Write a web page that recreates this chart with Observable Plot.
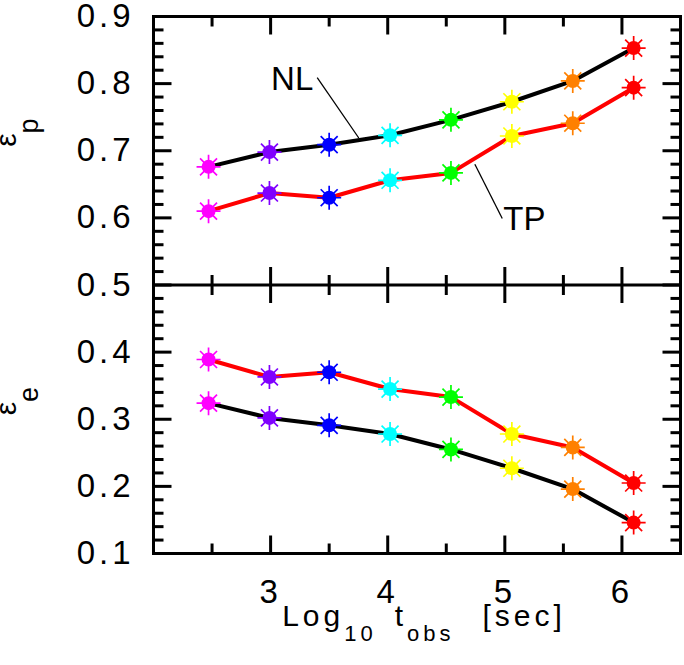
<!DOCTYPE html>
<html>
<head>
<meta charset="utf-8">
<script src="https://cdn.jsdelivr.net/npm/d3@7"></script>
<script src="https://cdn.jsdelivr.net/npm/@observablehq/plot@0.6"></script>
<style>
  body { margin: 0; background: #fff; }
  #chart svg { display: block; }
</style>
</head>
<body>
<div id="chart"></div>
<script>
// Observation epochs (log10 of time in seconds) and the colour of each epoch's marker
const logT = [2.47, 2.99, 3.50, 4.02, 4.54, 5.06, 5.58, 6.10];
const epochColors = ["#ff00ff", "#7f00ff", "#0000ff", "#00ffff", "#00ff00", "#ffff00", "#ff8000", "#ff0000"];

// Proton fraction (upper panel) and electron fraction (lower panel) for the two models
const epsP_NL = [0.676, 0.698, 0.709, 0.723, 0.746, 0.773, 0.804, 0.853];
const epsP_TP = [0.610, 0.637, 0.630, 0.656, 0.667, 0.722, 0.741, 0.794];
const epsE_NL = [0.324, 0.302, 0.291, 0.278, 0.255, 0.227, 0.196, 0.146];
const epsE_TP = [0.389, 0.363, 0.370, 0.345, 0.333, 0.278, 0.258, 0.205];

const modelNames = ["NL", "TP"];
const modelLineColors = ["black", "#ff0000"];

// Axis ticks
const xTickLabels = [3, 4, 5, 6];
const xMinorTicks = [2.5, 3.5, 4.5, 5.5];
const yTickLabels = [0.1, 0.2, 0.3, 0.4, 0.5, 0.6, 0.7, 0.8, 0.9];
const panelDivider = 0.5;
const xDomain = [2, 6.5];
const yDomain = [0.1, 0.9];

// Model labels with their leader lines
const labelX = [3.184, 5.167];
const labelY = [0.806, 0.597];
const leaderX1 = [3.398, 4.744];
const leaderY1 = [0.809, 0.680];
const leaderX2 = [3.753, 4.978];
const leaderY2 = [0.719, 0.599];

// Panel axis titles
const panelTitles = [
  {base: "\u03b5", sub: "p", domain: [0.5, 0.9]},
  {base: "\u03b5", sub: "e", domain: [0.1, 0.5]}
];

// Long-form table: one row per point
const seriesList = [
  {qty: "p", model: 0, values: epsP_NL},
  {qty: "p", model: 1, values: epsP_TP},
  {qty: "e", model: 0, values: epsE_NL},
  {qty: "e", model: 1, values: epsE_TP}
];
const table = seriesList.flatMap(s => s.values.map((v, i) => ({
  t: logT[i],
  v,
  key: s.qty + modelNames[s.model],
  line: modelLineColors[s.model],
  color: epochColors[i]
})));

const annotations = modelNames.map((name, i) => ({
  name, x: labelX[i], y: labelY[i],
  x1: leaderX1[i], y1: leaderY1[i], x2: leaderX2[i], y2: leaderY2[i]
}));

const yMinorTicks = d3.range(0.12, 0.9, 0.02)
  .map(v => Math.round(v * 100) / 100)
  .filter(v => Math.round(v * 100) % 10 !== 0);

// Figure geometry
const W = 684, H = 665;
const M = {left: 153, right: 4, top: 16, bottom: 112};
const xPerPx = (xDomain[1] - xDomain[0]) / (W - M.left - M.right);
const yPerPx = (yDomain[1] - yDomain[0]) / (H - M.top - M.bottom);
const majorPx = 18, minorPx = 10;

// Inward tick segments along the frame edges and on both sides of the divider
const tickSegments = [];
for (const [values, px] of [[yTickLabels, majorPx], [yMinorTicks, minorPx]]) {
  const w = px * xPerPx;
  for (const v of values) {
    tickSegments.push({x1: xDomain[0], x2: xDomain[0] + w, y1: v, y2: v});
    tickSegments.push({x1: xDomain[1] - w, x2: xDomain[1], y1: v, y2: v});
  }
}
for (const [values, px] of [[xTickLabels, majorPx], [xMinorTicks, minorPx]]) {
  const h = px * yPerPx;
  for (const v of values) {
    tickSegments.push({x1: v, x2: v, y1: yDomain[0], y2: yDomain[0] + h});
    tickSegments.push({x1: v, x2: v, y1: yDomain[1] - h, y2: yDomain[1]});
    tickSegments.push({x1: v, x2: v, y1: panelDivider - h, y2: panelDivider + h});
  }
}

// Eight-spoked star drawn around each marker
const spokes = {
  draw(context, size) {
    const R = Math.sqrt(size / Math.PI);
    for (let k = 0; k < 8; k++) {
      const a = k * Math.PI / 4;
      context.moveTo(0, 0);
      context.lineTo(R * Math.cos(a), R * Math.sin(a));
    }
  }
};

const font = "Liberation Sans, Arial, Helvetica, sans-serif";
const tickFont = {fontSize: 33, fontFamily: font};

const chart = Plot.plot({
  width: W,
  height: H,
  marginLeft: M.left,
  marginRight: M.right,
  marginTop: M.top,
  marginBottom: M.bottom,
  x: {domain: xDomain},
  y: {domain: yDomain},
  color: {type: "identity"},
  style: {fontFamily: font, background: "white", color: "black"},
  marks: [
    Plot.frame({stroke: "black", strokeWidth: 3}),
    // tick labels
    Plot.axisY(yTickLabels, {anchor: "left", tickSize: 0, tickPadding: 19, tickFormat: d => d.toFixed(1), label: null, ...tickFont}),
    Plot.axisX(xTickLabels, {anchor: "bottom", tickSize: 0, tickPadding: 26, tickFormat: d => String(d), label: null, ...tickFont}),
    // divider between the two panels
    Plot.ruleY([panelDivider], {stroke: "black", strokeWidth: 3}),
    // model curves
    Plot.line(table, {x: "t", y: "v", z: "key", stroke: "line", strokeWidth: 4}),
    // epoch markers
    Plot.dot(table, {x: "t", y: "v", r: 12, symbol: spokes, stroke: "color", strokeWidth: 1.7, fill: "none"}),
    Plot.dot(table, {x: "t", y: "v", r: 7, fill: "color", stroke: "none"}),
    // model labels
    Plot.link(annotations, {x1: "x1", y1: "y1", x2: "x2", y2: "y2", stroke: "black", strokeWidth: 1.3}),
    Plot.text(annotations, {x: "x", y: "y", text: "name", fontSize: 33, fontFamily: font, fill: "black"}),
    // panel titles
    Plot.text(panelTitles, {
      frameAnchor: "left", y: d => (d.domain[0] + d.domain[1]) / 2, text: d => d.base,
      rotate: -90, dx: -147, dy: -4, fontSize: 30, fontFamily: font, fill: "black"
    }),
    // x-axis title
    Plot.text(["Log"], {
      frameAnchor: "bottom", text: d => d, dx: 7, dy: 72, fontSize: 30, fontFamily: font, fill: "black"
    }),
    // inward ticks
    Plot.link(tickSegments, {x1: "x1", y1: "y1", x2: "x2", y2: "y2", stroke: "black", strokeWidth: 3})
  ]
});

// Rebuild a text element from plain and subscripted pieces
function richText(el, parts, subSize, subShift) {
  while (el.firstChild) el.removeChild(el.firstChild);
  let current = 0;
  for (const p of parts) {
    const ts = document.createElementNS("http://www.w3.org/2000/svg", "tspan");
    ts.textContent = p.t;
    const target = p.sub ? subShift : 0;
    if (target !== current) ts.setAttribute("dy", target - current);
    current = target;
    if (p.sub) ts.setAttribute("font-size", subSize);
    if (p.gap) ts.setAttribute("dx", p.gap);
    el.appendChild(ts);
  }
}

chart.querySelectorAll('g[aria-label$="tick label"]').forEach(g => g.setAttribute("letter-spacing", "4px"));
const texts = Array.from(chart.querySelectorAll("text"));
texts.filter(t => t.textContent === "\u03b5").forEach((el, i) => {
  const d = panelTitles[i];
  richText(el, [{t: d.base}, {t: d.sub, sub: true}], 27, 22);
});
texts.filter(t => t.textContent === "Log").forEach(el => {
  el.setAttribute("letter-spacing", "4px");
  richText(el, [
    {t: "Log"}, {t: "10", sub: true}, {t: "t", gap: 18}, {t: "obs", sub: true}, {t: "[sec]", gap: 28}
  ], 22, 15);
});

document.getElementById("chart").appendChild(chart);
</script>
</body>
</html>
